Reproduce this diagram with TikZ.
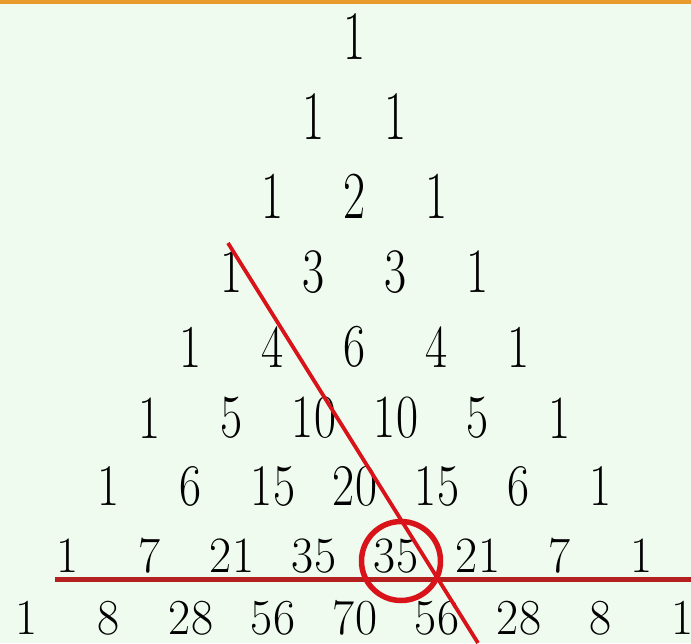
\documentclass[tikz,border=0pt]{standalone}
\usepackage{graphicx}
\usetikzlibrary{positioning}
\definecolor{mint}{HTML}{F0FBEF}
\definecolor{topbar}{HTML}{E89A2C}
\definecolor{penred}{HTML}{D8141A}
\definecolor{darkred}{HTML}{B42020}
\tikzset{
  entry/.style={inner sep=0pt,font=\fontsize{48}{48}\selectfont},
  ring/.style={circle,draw=penred,line width=5.5pt,minimum size=79pt,inner sep=0pt},
  diag/.style={draw=penred,line width=3.8pt},
  baseline/.style={draw=darkred,line width=5pt}
}

\begin{document}
\begin{tikzpicture}[x=1pt,y=-1pt]
% paper and top bar
\fill[mint] (0,0) rectangle (691,643);
\fill[topbar] (0,0) rectangle (691,4);
\useasboundingbox (0,0) rectangle (691,643);
% rows of the triangle
\foreach \v [count=\k from 0] in {1} \node[entry] (p-0-\k) at ({355+82*\k},36) {\scalebox{1}[1.45]{\v}};
\foreach \v [count=\k from 0] in {1,1} \node[entry] (p-1-\k) at ({314+82*\k},116) {\scalebox{1}[1.45]{\v}};
\foreach \v [count=\k from 0] in {1,2,1} \node[entry] (p-2-\k) at ({273+82*\k},196) {\scalebox{1}[1.4]{\v}};
\foreach \v [count=\k from 0] in {1,3,3,1} \node[entry] (p-3-\k) at ({232+82*\k},272) {\scalebox{1}[1.32]{\v}};
\foreach \v [count=\k from 0] in {1,4,6,4,1} \node[entry] (p-4-\k) at ({191+82*\k},347) {\scalebox{1}[1.27]{\v}};
\foreach \v [count=\k from 0] in {1,5,10,10,5,1} \node[entry] (p-5-\k) at ({150+82*\k},418) {\scalebox{1}[1.28]{\v}};
\foreach \v [count=\k from 0] in {1,6,15,20,15,6,1} \node[entry] (p-6-\k) at ({109+82*\k},486) {\scalebox{1}[1.23]{\v}};
\foreach \v [count=\k from 0] in {1,7,21,35,35,21,7,1} \node[entry] (p-7-\k) at ({68+82*\k},556) {\scalebox{1}[1.06]{\v}};
\foreach \v [count=\k from 0] in {1,8,28,56,70,56,28,8,1} \node[entry] (p-8-\k) at ({27+82*\k},618) {\scalebox{1}[1.05]{\v}};
% line under row 7
\coordinate (hl) at (55,579);
\coordinate (hr) at (691,579);
\draw[baseline] (hl) -- (hr);
% diagonal and ring
\coordinate (dtop) at (228,243);
\coordinate (dbot) at (478,643);
\draw[diag] (dtop) -- (dbot);
\node[ring] (ring) at (401,561) {};
\end{tikzpicture}
\end{document}
